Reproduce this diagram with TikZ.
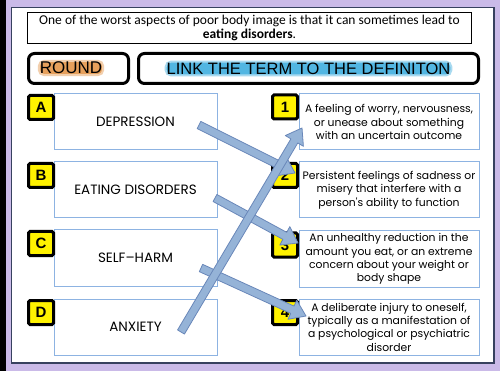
\documentclass[tikz,border=0pt]{standalone}
\usepackage{fontspec}
\setmainfont{Carlito}
\newfontfamily\gothicfont{Poppins}
\newfontfamily\arialfont{Liberation Sans}
\usetikzlibrary{calc}

\definecolor{purplebg}{RGB}{202,186,232}
\definecolor{panelline}{RGB}{55,65,95}
\definecolor{termline}{RGB}{141,179,226}
\definecolor{arrowfill}{RGB}{149,179,215}
\definecolor{arrowline}{RGB}{105,135,185}
\definecolor{roundglow}{RGB}{230,160,92}
\definecolor{linkglow}{RGB}{82,182,226}

% block arrow from tail coordinate #1 to tip coordinate #2
\newcommand{\blockarrow}[2]{%
  \path ($(#2)!15pt!(#1)$) coordinate (ah);
  \filldraw[arrowbody] ($(#1)!4pt!90:(#2)$) -- ($(ah)!4pt!-90:(#1)$)
    -- ($(ah)!10.5pt!-90:(#1)$) -- (#2) -- ($(ah)!10.5pt!90:(#1)$)
    -- ($(ah)!4pt!90:(#1)$) -- ($(#1)!4pt!-90:(#2)$) -- cycle;}

\begin{document}
\begin{tikzpicture}[
  x=1pt, y=-1pt,
  titlebox/.style={draw=black, line width=1.5pt, fill=white, minimum width=444pt, minimum height=31pt, align=center, inner sep=1pt, font=\fontsize{13.5}{14.5}\selectfont},
  headbox/.style={draw=black, line width=3pt, fill=white, rounded corners=6pt, minimum height=30pt},
  roundtxt/.style={fill=roundglow, draw=roundglow!50, line width=2pt, rounded corners=5pt, inner xsep=1pt, inner ysep=1pt, font=\arialfont\fontsize{17}{17}\selectfont},
  linktxt/.style={roundtxt, fill=linkglow, draw=linkglow!50, font=\arialfont\fontsize{16.5}{17}\selectfont},
  letter/.style={draw=black, line width=3pt, fill=yellow, minimum width=25pt, minimum height=24pt, rounded corners=1.5pt, inner sep=0pt, font=\arialfont\bfseries\fontsize{15}{15}\selectfont},
  term/.style={draw=termline, line width=1pt, fill=white, minimum width=163pt, minimum height=56pt, inner sep=2pt, font=\gothicfont\fontsize{13.5}{15}\selectfont},
  def/.style={term, minimum width=180pt, align=center, font=\gothicfont\fontsize{10.8}{13.3}\selectfont},
  arrowbody/.style={fill=arrowfill, draw=arrowline, line width=0.8pt, line join=round}
]
\useasboundingbox (0,0) rectangle (500,371);

% Frame
\fill[purplebg] (0,0) rectangle (500,371);
\fill[black] (0,0) rectangle (6,371);
\draw[panelline, fill=white, line width=1.2pt] (11.5,7.5) rectangle (494,363);

% Title and headers
\node[titlebox] (title) at (249.5,28)
  {One of the worst aspects of poor body image is that it can sometimes lead to\\\textbf{eating disorders}.};
\node[headbox, minimum width=100pt] (roundbox) at (78.5,68.5) {};
\node[headbox, minimum width=340pt] (linkbox) at (308.5,68.5) {};
\node[roundtxt] (round) at (71,68) {ROUND};
\node[linktxt] (link) at (308.5,68.5) {LINK THE TERM TO THE DEFINITON};

% === TERMS (left) ===
\node[term] (dep) at (135.5,122) {DEPRESSION};
\node[term] (eat) at (135.5,190) {EATING DISORDERS};
\node[term] (self) at (135.5,258) {SELF–HARM};
\node[term] (anx) at (135.5,327) {ANXIETY};
\node[letter] (la) at (41,107.5) {A};
\node[letter] (lb) at (41,175.5) {B};
\node[letter] (lc) at (41,243.5) {C};
\node[letter] (ld) at (41,312.5) {D};

% === DEFINITIONS (right) ===
\node[def] (d1) at (389,122) {A feeling of worry, nervousness,\\or unease about something\\with an uncertain outcome};
\node[def] (d2) at (389,190) {Persistent feelings of sadness or\\misery that interfere with a\\person's ability to function};
\node[def] (d3) at (389,259) {An unhealthy reduction in the\\amount you eat, or an extreme\\concern about your weight or\\body shape};
\node[def] (d4) at (389,327) {A deliberate injury to oneself,\\typically as a manifestation of\\a psychological or psychiatric\\disorder};
\node[letter] (n1) at (285,107) {1};
\node[letter] (n2) at (285,175.5) {2};
\node[letter] (n3) at (285,245) {3};
\node[letter] (n4) at (285,312.5) {4};

% Links
\coordinate (depTail) at (199,125);
\coordinate (depTip) at (295,173);
\coordinate (eatTail) at (215,198);
\coordinate (eatTip) at (298,243);
\coordinate (selfTail) at (201,268);
\coordinate (selfTip) at (306,316);
\coordinate (anxTail) at (181,332);
\coordinate (anxTip) at (302,128);
\blockarrow{depTail}{depTip}
\blockarrow{eatTail}{eatTip}
\blockarrow{selfTail}{selfTip}
\blockarrow{anxTail}{anxTip}

\end{tikzpicture}
\end{document}
